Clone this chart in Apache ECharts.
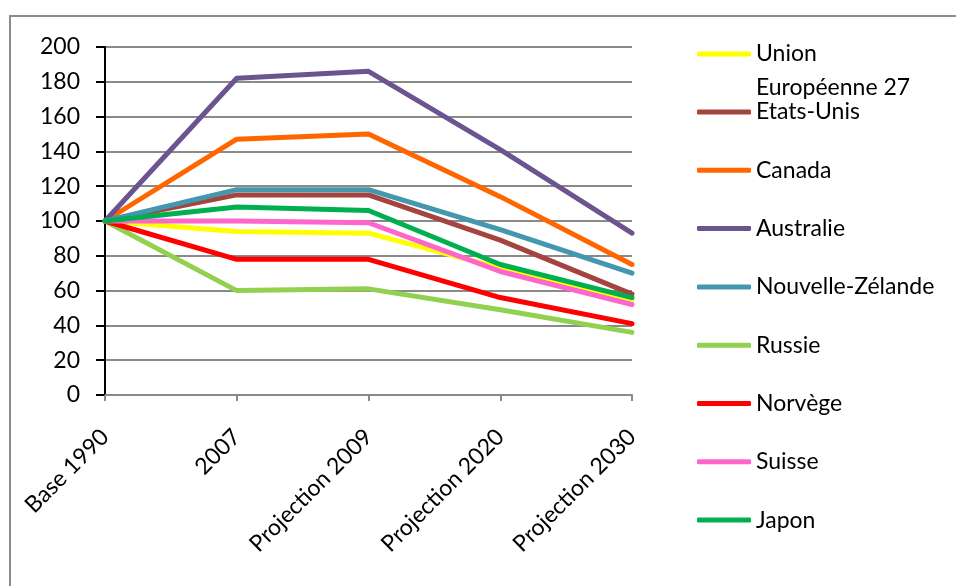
<!DOCTYPE html>
<html>
<head>
<meta charset="utf-8">
<script src="https://cdn.jsdelivr.net/npm/echarts@6/dist/echarts.min.js"></script>
<style>
  html, body { margin: 0; padding: 0; background: #fff; }
  #chart { width: 956px; height: 586px; }
</style>
</head>
<body>
<div id="chart"></div>
<script>
// Emissions index (base 1990 = 100) by country and horizon
const categories = ['Base 1990', '2007', 'Projection 2009', 'Projection 2020', 'Projection 2030'];
const yTicks = [0, 20, 40, 60, 80, 100, 120, 140, 160, 180, 200];

const seriesNames = ['Union Européenne 27', 'Etats-Unis', 'Canada', 'Australie', 'Nouvelle-Zélande', 'Russie', 'Norvège', 'Suisse', 'Japon'];
const ue27      = [100, 94, 93, 73, 55];
const etatsUnis = [100, 115, 115, 89, 58];
const canada    = [100, 147, 150, 114, 75];
const australie = [100, 182, 186, 141, 93];
const nzelande  = [100, 118, 118, 95, 70];
const russie    = [100, 60, 61, 49, 36];
const norvege   = [100, 78, 78, 56, 41];
const suisse    = [100, 100, 99, 71, 52];
const japon     = [100, 108, 106, 75, 56];
const seriesValues = [ue27, etatsUnis, canada, australie, nzelande, russie, norvege, suisse, japon];
const seriesColors = ['#FFFF00', '#A5443F', '#FF6600', '#6B5490', '#4397AF', '#92D050', '#FF0000', '#FF66CC', '#00B050'];

const FONT = 'Lato';
const FONT_SIZE = 23;

const chart = echarts.init(document.getElementById('chart'), null, { renderer: 'canvas' });

const legendText = { fontFamily: FONT, fontSize: FONT_SIZE, color: '#000' };

chart.setOption({
  backgroundColor: '#fff',
  animation: false,
  graphic: [{
    type: 'rect',
    shape: { x: 10, y: 16, width: 970, height: 600 },
    style: { fill: 'none', stroke: '#8C8C8C', lineWidth: 2 },
    silent: true
  }],
  grid: { left: 105, right: 324, top: 47, bottom: 191 },
  legend: [{
    orient: 'vertical',
    left: 697,
    top: 3,
    padding: 0,
    icon: 'roundRect',
    itemWidth: 54,
    itemHeight: 5,
    selectedMode: false,
    data: [seriesNames[0]],
    formatter: () => '\u00a0\nUnion\nEuropéenne 27',
    textStyle: Object.assign({ lineHeight: 34 }, legendText)
  }, {
    orient: 'vertical',
    left: 697,
    top: 99,
    padding: 0,
    icon: 'roundRect',
    itemWidth: 54,
    itemHeight: 5,
    itemGap: 32.3,
    selectedMode: false,
    data: seriesNames.slice(1),
    textStyle: Object.assign({ lineHeight: 26 }, legendText)
  }],
  xAxis: {
    type: 'category',
    data: categories,
    boundaryGap: false,
    axisLine: { lineStyle: { color: '#8A8A8A', width: 2 } },
    axisTick: { show: true, length: 6, lineStyle: { color: '#8A8A8A', width: 2 } },
    axisLabel: {
      rotate: 45,
      margin: 38,
      fontFamily: FONT,
      fontSize: FONT_SIZE,
      color: '#000',
      interval: 0
    },
    splitLine: { show: false }
  },
  yAxis: {
    type: 'value',
    min: yTicks[0],
    max: yTicks[yTicks.length - 1],
    interval: yTicks[1] - yTicks[0],
    axisLine: { show: true, lineStyle: { color: '#000', width: 2 } },
    axisTick: { show: true, length: 9, lineStyle: { color: '#000', width: 2 } },
    axisLabel: { margin: 25, fontFamily: FONT, fontSize: FONT_SIZE, color: '#000' },
    splitLine: { show: true, lineStyle: { color: '#8A8A8A', width: 2 } }
  },
  series: seriesNames.map((name, i) => ({
    name: name,
    type: 'line',
    data: seriesValues[i],
    symbol: 'none',
    color: seriesColors[i],
    lineStyle: { color: seriesColors[i], width: 5, cap: 'round', join: 'round' },
    z: 2 + i
  }))
});
</script>
</body>
</html>
